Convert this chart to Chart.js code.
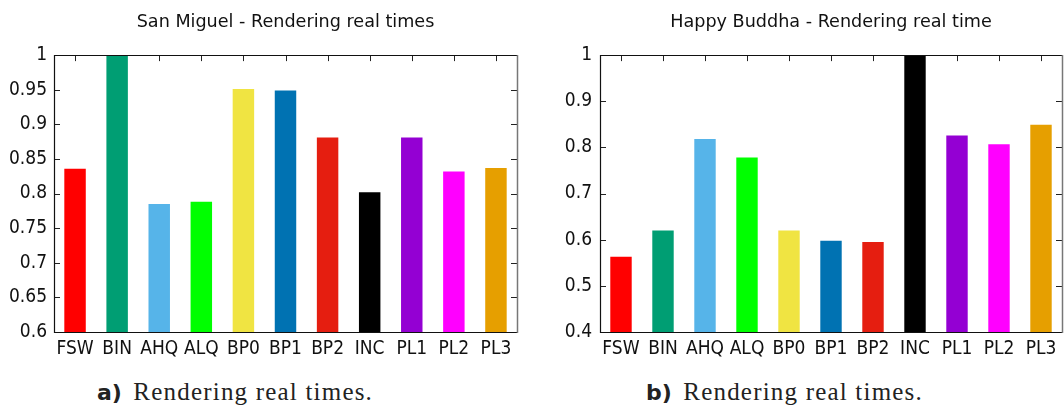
<!DOCTYPE html>
<html>
<head>
<meta charset="utf-8">
<script src="https://cdn.jsdelivr.net/npm/chart.js@4.4.1/dist/chart.umd.min.js"></script>
<style>
  body { margin: 0; background: #fff; width: 1064px; height: 405px; overflow: hidden; position: relative; }
  canvas { position: absolute; top: 0; }
  #left { left: 0; }
  #right { left: 540px; }
  .cap { position: absolute; top: 378px; font-family: 'Liberation Serif', serif; font-size: 25px; letter-spacing: 1.2px; color: #222; white-space: nowrap; }
  .cap b { font-family: 'DejaVu Sans', sans-serif; font-size: 22px; letter-spacing: 0; margin-right: 4px; }
</style>
</head>
<body>
<canvas id="left" width="535" height="370"></canvas>
<canvas id="right" width="524" height="370"></canvas>
<div class="cap" style="left:97px"><b>a)</b> Rendering real times.</div>
<div class="cap" style="left:646px"><b>b)</b> Rendering real times.</div>
<script>
const categories = ['FSW', 'BIN', 'AHQ', 'ALQ', 'BP0', 'BP1', 'BP2', 'INC', 'PL1', 'PL2', 'PL3'];
const barColors = ['#ff0000', '#009e73', '#56b4e9', '#00ff00', '#f0e442', '#0072b2', '#e51e10', '#000000', '#9400d3', '#ff00ff', '#e69f00'];

const sanMiguel = [0.836, 1.0, 0.785, 0.788, 0.951, 0.949, 0.881, 0.802, 0.881, 0.832, 0.837];
const happyBuddha = [0.563, 0.620, 0.818, 0.778, 0.620, 0.598, 0.595, 1.0, 0.826, 0.807, 0.849];

const yTicksA = ['0.6', '0.65', '0.7', '0.75', '0.8', '0.85', '0.9', '0.95', '1'];
const yTicksB = ['0.4', '0.5', '0.6', '0.7', '0.8', '0.9', '1'];

const tickFont = { family: "'DejaVu Sans Condensed', 'DejaVu Sans', sans-serif", size: 19 };

// gnuplot style frame: inner ticks first (bars cover them), border on top
const frame = {
  id: 'frame',
  beforeDatasetsDraw(chart) {
    const { ctx, chartArea: a, scales: { x, y } } = chart;
    ctx.save();
    ctx.strokeStyle = '#222';
    ctx.lineWidth = 1;
    ctx.beginPath();
    y.ticks.forEach((t, i) => {
      const py = Math.round(y.getPixelForTick(i)) + 0.5;
      ctx.moveTo(a.left, py); ctx.lineTo(a.left + 6, py);
      ctx.moveTo(a.right, py); ctx.lineTo(a.right - 6, py);
    });
    x.ticks.forEach((t, i) => {
      const px = Math.round(x.getPixelForTick(i)) + 0.5;
      ctx.moveTo(px, a.top); ctx.lineTo(px, a.top + 6);
      ctx.moveTo(px, a.bottom); ctx.lineTo(px, a.bottom - 6);
    });
    ctx.stroke();
    ctx.restore();
  },
  afterDatasetsDraw(chart) {
    const { ctx, chartArea: a } = chart;
    ctx.save();
    ctx.lineWidth = 1.2;
    ctx.strokeStyle = '#111';
    ctx.beginPath();
    ctx.moveTo(Math.round(a.right) + 0.5, Math.round(a.top) + 0.5);
    ctx.lineTo(Math.round(a.left) + 0.5, Math.round(a.top) + 0.5);
    ctx.lineTo(Math.round(a.left) + 0.5, Math.round(a.bottom) + 0.5);
    ctx.lineTo(Math.round(a.right) + 0.5, Math.round(a.bottom) + 0.5);
    ctx.stroke();
    ctx.strokeStyle = '#777';
    ctx.lineWidth = 1.5;
    ctx.beginPath();
    ctx.moveTo(Math.round(a.right) + 0.5, Math.round(a.top));
    ctx.lineTo(Math.round(a.right) + 0.5, Math.round(a.bottom) + 1);
    ctx.stroke();
    ctx.restore();
  }
};

function makeChart(id, title, values, yMin, yStep, yLabels, axisWidth, padRight, labelPad) {
  return new Chart(document.getElementById(id), {
    type: 'bar',
    data: {
      labels: categories,
      datasets: [{
        data: values,
        backgroundColor: barColors,
        borderWidth: 0,
        barPercentage: 0.51,
        categoryPercentage: 1
      }]
    },
    options: {
      responsive: false,
      animation: false,
      layout: { padding: { left: 0, right: padRight, top: 0, bottom: 0 } },
      plugins: {
        legend: { display: false },
        tooltip: { enabled: false },
        title: {
          display: true,
          text: title,
          fullSize: false,
          color: '#111',
          font: { family: "'DejaVu Sans', sans-serif", size: 17.6, weight: 'normal' },
          padding: { top: 12, bottom: 22 }
        }
      },
      scales: {
        x: {
          offset: true,
          grid: { display: false, drawTicks: false },
          border: { display: false },
          ticks: { color: '#111', font: tickFont, padding: 6, maxRotation: 0, autoSkip: false },
          afterFit: s => { s.height = 38; }
        },
        y: {
          min: yMin,
          max: 1,
          grid: { display: false, drawTicks: false },
          border: { display: false },
          ticks: {
            stepSize: yStep,
            color: '#111',
            font: tickFont,
            padding: labelPad,
            callback: (v, i) => yLabels[i]
          },
          afterFit: s => { s.width = axisWidth; }
        }
      }
    },
    plugins: [frame]
  });
}

makeChart('left', 'San Miguel - Rendering real times', sanMiguel, 0.6, 0.05, yTicksA, 54, 18, 7);
makeChart('right', 'Happy Buddha - Rendering real time', happyBuddha, 0.4, 0.1, yTicksB, 60, 2, 8);
</script>
</body>
</html>
